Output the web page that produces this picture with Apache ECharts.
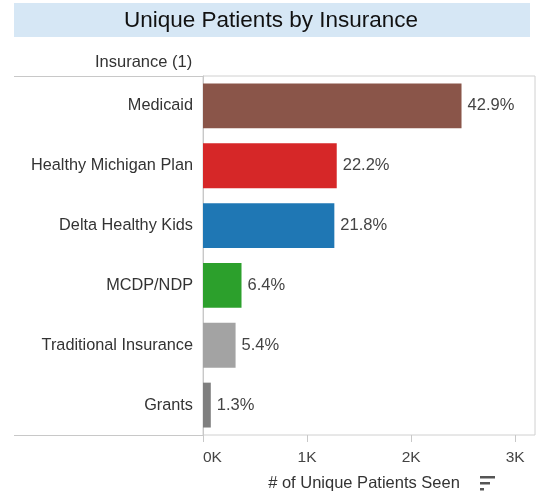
<!DOCTYPE html>
<html>
<head>
<meta charset="utf-8">
<script src="https://cdn.jsdelivr.net/npm/echarts@6/dist/echarts.min.js"></script>
<style>
html,body{margin:0;padding:0;background:#fff;}
#chart{width:539px;height:493px;}
</style>
</head>
<body>
<div id="chart"></div>
<script>
var categories = ["Medicaid", "Healthy Michigan Plan", "Delta Healthy Kids", "MCDP/NDP", "Traditional Insurance", "Grants"];
var patients = [2484, 1285, 1262, 370, 313, 75];
var barColors = ["#8a5549", "#d62728", "#1f77b4", "#2ca02c", "#a3a3a3", "#7f7f7f"];
var xTicks = [0, 1000, 2000, 3000];

var total = 0;
for (var i = 0; i < patients.length; i++) { total += patients[i]; }

var font = "Liberation Sans, Arial, sans-serif";
var myChart = echarts.init(document.getElementById("chart"));

var barData = [];
for (var i = 0; i < patients.length; i++) {
	barData.push({ value: patients[i], itemStyle: { color: barColors[i] } });
}

var option = {
	backgroundColor: "#fff",
	textStyle: { fontFamily: font },
	grid: {
		left: 203, top: 76, right: 4, bottom: 58,
		containLabel: false, outerBoundsMode: "none",
		show: true, borderColor: "#d0d0d0", borderWidth: 1
	},
	graphic: [
		{ type: "rect", shape: { x: 14, y: 3, width: 516, height: 34 }, style: { fill: "#d6e7f5" } },
		{ type: "text", x: 271, y: 21, style: { text: "Unique Patients by Insurance", font: "22.5px " + font, fill: "#111", align: "center", verticalAlign: "middle" } },
		{ type: "text", x: 95, y: 62, style: { text: "Insurance (1)", font: "16.5px " + font, fill: "#333", verticalAlign: "middle" } },
		{ type: "line", shape: { x1: 14, y1: 76.5, x2: 203, y2: 76.5 }, style: { stroke: "#c8c8c8", lineWidth: 1 } },
		{ type: "line", shape: { x1: 14, y1: 435.5, x2: 203, y2: 435.5 }, style: { stroke: "#c8c8c8", lineWidth: 1 } },
		{ type: "rect", shape: { x: 480, y: 476, width: 15, height: 2.5 }, style: { fill: "#555" } },
		{ type: "rect", shape: { x: 480, y: 482, width: 10, height: 2.5 }, style: { fill: "#555" } },
		{ type: "rect", shape: { x: 480, y: 488, width: 4, height: 2.5 }, style: { fill: "#555" } }
	],
	xAxis: {
		type: "value",
		min: 0,
		max: 3190,
		interval: 1000,
		splitLine: { show: false },
		axisLine: { show: false },
		axisTick: { show: true, length: 7, lineStyle: { color: "#c8c8c8" } },
		axisLabel: {
			fontSize: 15.5, color: "#444", margin: 15, alignMinLabel: "left",
			formatter: function (v) { return (v / 1000) + "K"; }
		},
		name: "# of Unique Patients Seen",
		nameLocation: "middle",
		nameGap: 40,
		nameTextStyle: { fontSize: 16.5, color: "#333", padding: [0, 10, 0, 0] }
	},
	yAxis: {
		type: "category",
		inverse: true,
		data: categories,
		axisLine: { show: true, lineStyle: { color: "#c8c8c8" } },
		axisTick: { show: false },
		axisLabel: { fontSize: 16.3, color: "#333", margin: 10 }
	},
	series: [{
		type: "bar",
		data: barData,
		barCategoryGap: "25%",
		label: {
			show: true,
			position: "right",
			distance: 6,
			fontSize: 16.5,
			color: "#444",
			formatter: function (p) { return (p.value / total * 100).toFixed(1) + "%"; }
		}
	}]
};
myChart.setOption(option);
</script>
</body>
</html>
